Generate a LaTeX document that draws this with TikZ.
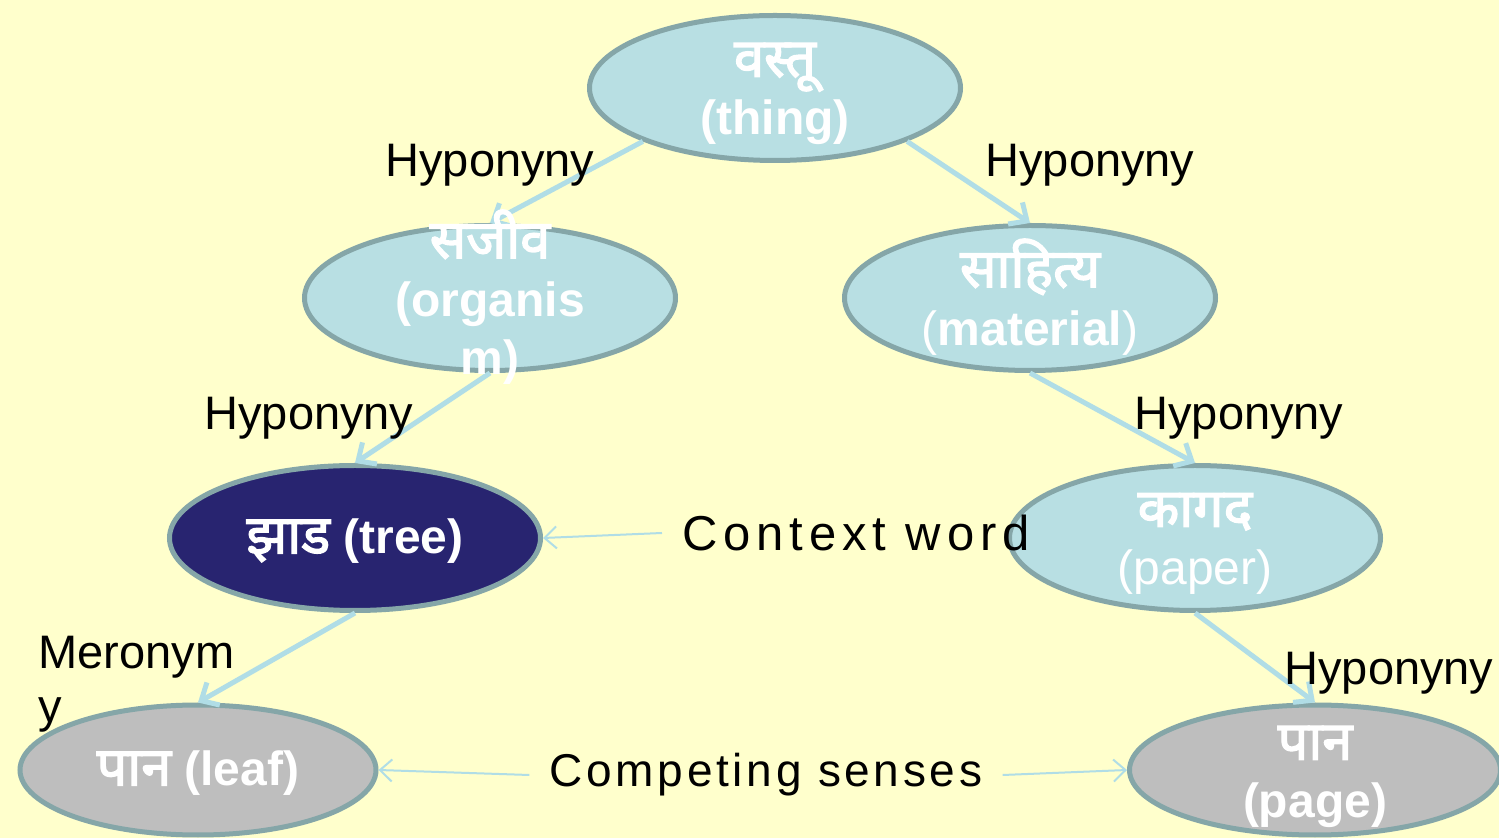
\documentclass[tikz,border=0pt]{standalone}
\usepackage{fontspec}
\setmainfont{Liberation Sans}
\newfontfamily\deva[Script=Devanagari, FakeBold=2.5]{Noto Sans}
\newfontfamily\ctxfont[LetterSpace=12]{Liberation Sans}
\newfontfamily\compfont[LetterSpace=8]{Liberation Sans}
\usetikzlibrary{arrows.meta,shapes.geometric}

\definecolor{bg}{RGB}{255,255,204}
\definecolor{nodefill}{RGB}{184,223,227}
\definecolor{nodeline}{RGB}{133,166,168}
\definecolor{navy}{RGB}{40,36,112}
\definecolor{greyfill}{RGB}{190,190,190}
\definecolor{arrowc}{RGB}{176,221,230}

\newcommand{\dv}[1]{{\deva\fontsize{27}{29}\selectfont #1}}

\begin{document}
\begin{tikzpicture}[x=0.5pt,y=-0.5pt,
  sense/.style={ellipse, draw=nodeline, line width=2.5pt, fill=nodefill,
    inner sep=0pt, minimum width=185.5pt, minimum height=72.5pt},
  wtext/.style={text=white, font=\bfseries\fontsize{24}{29}\selectfont,
    align=center, inner sep=0pt},
  lbl/.style={text=black, font=\fontsize{23.5}{27}\selectfont, inner sep=0pt},
  hypo/.style={draw=arrowc, line width=2.5pt,
    -{Straight Barb[length=7pt,width=13pt,line width=2.5pt]}},
  thinarrow/.style={draw=arrowc, line width=1pt,
    -{Straight Barb[length=6pt,width=11pt,line width=1pt]}}]

\useasboundingbox (0,0) rectangle (1499,838);
\fill[bg] (0,0) rectangle (1499,838);

% concept ellipses
\node[sense] (thing) at (775,88) {};
\node[sense] (org) at (490,298) {};
\node[sense] (mat) at (1030,298) {};
\node[sense, fill=navy] (tree) at (355,538) {};
\node[sense] (paper) at (1195,538) {};
\node[sense, fill=greyfill, minimum width=178pt, minimum height=65pt] (leaf) at (198,770) {};
\node[sense, fill=greyfill, minimum height=65pt] (page) at (1315,770) {};

% hyponymy / meronymy links
\draw[hypo] (thing.202) -- (org.north);
\draw[hypo] (thing.338) -- (mat.north);
\draw[hypo] (org.south) -- (tree.north);
\draw[hypo] (mat.south) -- (paper.north);
\draw[hypo] (tree.south) -- (leaf.north);
\draw[hypo] (paper.south) -- (page.north);

% ellipse texts
\node[wtext] (thingtxt) at (775,94) {\dv{वस्तू}\\(thing)};
\node[wtext] (orgtxt) at (490,297) {\dv{सजीव}\\(organis\\m)};
\node[wtext] (mattxt) at (1030,297) {\dv{साहित्य}\\{\mdseries(}material{\mdseries)}};
\node[wtext] (treetxt) at (355,541) {\dv{झाड} (tree)};
\node[wtext] (papertxt) at (1195,544) {\dv{कागद}\\{\mdseries(paper)}};
\node[wtext] (leaftxt) at (198,773) {\dv{पान} (leaf)};
\node[wtext] (pagetxt) at (1315,777) {\dv{पान}\\(page)};

% relation labels
\node[lbl, anchor=base] (h1) at (490,177) {Hyponyny};
\node[lbl, anchor=base] (h2) at (1090,177) {Hyponyny};
\node[lbl, anchor=base] (h3) at (309,430) {Hyponyny};
\node[lbl, anchor=base] (h4) at (1239,430) {Hyponyny};
\node[lbl, anchor=base] (h5) at (1389,685) {Hyponyny};
\node[lbl, anchor=north west, align=left] (mero) at (38,636) {Meronym\\y};

% context word and competing senses
\node[lbl, font=\ctxfont\fontsize{24.5}{28}\selectfont, anchor=west, inner xsep=10pt] (ctx) at (662,533) {Context word};
\draw[thinarrow] (ctx.west) -- (tree.east);
\node[lbl, font=\compfont\fontsize{23}{28}\selectfont, inner xsep=10pt] (comp) at (766,775) {Competing senses};
\draw[thinarrow] (comp.west) -- (leaf.east);
\draw[thinarrow] (comp.east) -- (page.west);
\end{tikzpicture}
\end{document}
